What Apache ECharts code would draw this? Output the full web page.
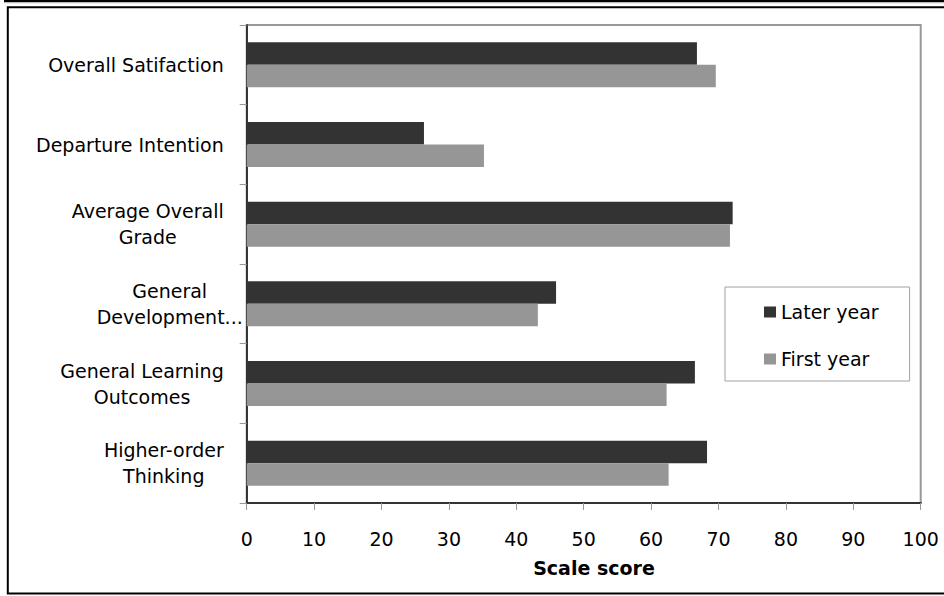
<!DOCTYPE html>
<html>
<head>
<meta charset="utf-8">
<script src="https://cdn.jsdelivr.net/npm/echarts@6/dist/echarts.min.js"></script>
<style>
html,body{margin:0;padding:0;background:#fff;}
#chart{width:944px;height:596px;}
</style>
</head>
<body>
<div id="chart"></div>
<script>
// Categories listed bottom to top (as drawn on the y axis)
const categories = [
  'Higher-order\nThinking',
  'General Learning\nOutcomes',
  'General\nDevelopment...',
  'Average Overall\nGrade',
  'Departure Intention',
  'Overall Satifaction'
];
const laterYear = [68.3, 66.5, 45.9, 72.1, 26.3, 66.8];
const firstYear = [62.6, 62.3, 43.2, 71.7, 35.2, 69.6];
const seriesNames = ['Later year', 'First year'];
const xTicks = {min: 0, max: 100, interval: 10};
const axisTitle = 'Scale score';

const FONT = 'DejaVu Sans';
const chart = echarts.init(document.getElementById('chart'), null, {renderer: 'svg'});

chart.setOption({
  animation: false,
  backgroundColor: '#ffffff',
  grid: {
    left: 246.7, right: 23.3, top: 25, bottom: 93,
    show: true, borderColor: '#999999', borderWidth: 2,
    containLabel: false
  },
  legend: {
    orient: 'vertical',
    left: 725, top: 287,
    data: seriesNames,
    itemWidth: 12, itemHeight: 11, itemGap: 27,
    backgroundColor: '#ffffff',
    borderColor: '#a0a0a0', borderWidth: 1,
    padding: [15, 31, 12, 39],
    textStyle: {fontFamily: FONT, fontSize: 19, color: '#000', lineHeight: 20},
    icon: 'rect'
  },
  xAxis: {
    type: 'value',
    min: xTicks.min, max: xTicks.max, interval: xTicks.interval,
    splitLine: {show: false},
    axisLine: {show: true, lineStyle: {color: '#333333', width: 2}},
    axisTick: {show: true, length: 7, lineStyle: {color: '#999999', width: 1}},
    axisLabel: {fontFamily: FONT, fontSize: 19, color: '#000', margin: 26}
  },
  yAxis: {
    type: 'category',
    data: categories,
    axisLine: {show: true, lineStyle: {color: '#111111', width: 1.5}},
    axisTick: {show: true, length: 7, alignWithLabel: false, lineStyle: {color: '#999999', width: 1}},
    axisLabel: {
      interval: 0,
      margin: 4,
      formatter: function (v) {
        const key = v.indexOf('...') >= 0 ? 'd' : 'c';
        return v.split('\n').map(l => '{' + key + '|' + l + '}').join('\n');
      },
      rich: {
        c: {fontFamily: FONT, fontSize: 19, color: '#000', align: 'center', lineHeight: 26, padding: [0, 19, 0, 0]},
        d: {fontFamily: FONT, fontSize: 19, color: '#000', align: 'center', lineHeight: 26}
      }
    }
  },
  graphic: [
    {type: 'rect', shape: {x: 4, y: 0, width: 940, height: 2.2}, style: {fill: '#000'}, z: 100},
    {type: 'rect', shape: {x: 4, y: 2.2, width: 940, height: 1}, style: {fill: '#bbbbbb'}, z: 100},
    {type: 'rect', shape: {x: 7.8, y: 7.3, width: 960, height: 586.2}, style: {fill: 'none', stroke: '#000', lineWidth: 2}, z: 100},
    {type: 'text', x: 594, y: 568, style: {text: axisTitle, font: 'bold 19px "DejaVu Sans"', fill: '#000', textAlign: 'center', textVerticalAlign: 'middle'}, z: 100}
  ],
  series: [
    {name: seriesNames[0], type: 'bar', data: laterYear, itemStyle: {color: '#333333'}, barGap: '0%', barCategoryGap: '43.5%'},
    {name: seriesNames[1], type: 'bar', data: firstYear, itemStyle: {color: '#969696'}, barGap: '0%', barCategoryGap: '43.5%'}
  ]
});
</script>
</body>
</html>
